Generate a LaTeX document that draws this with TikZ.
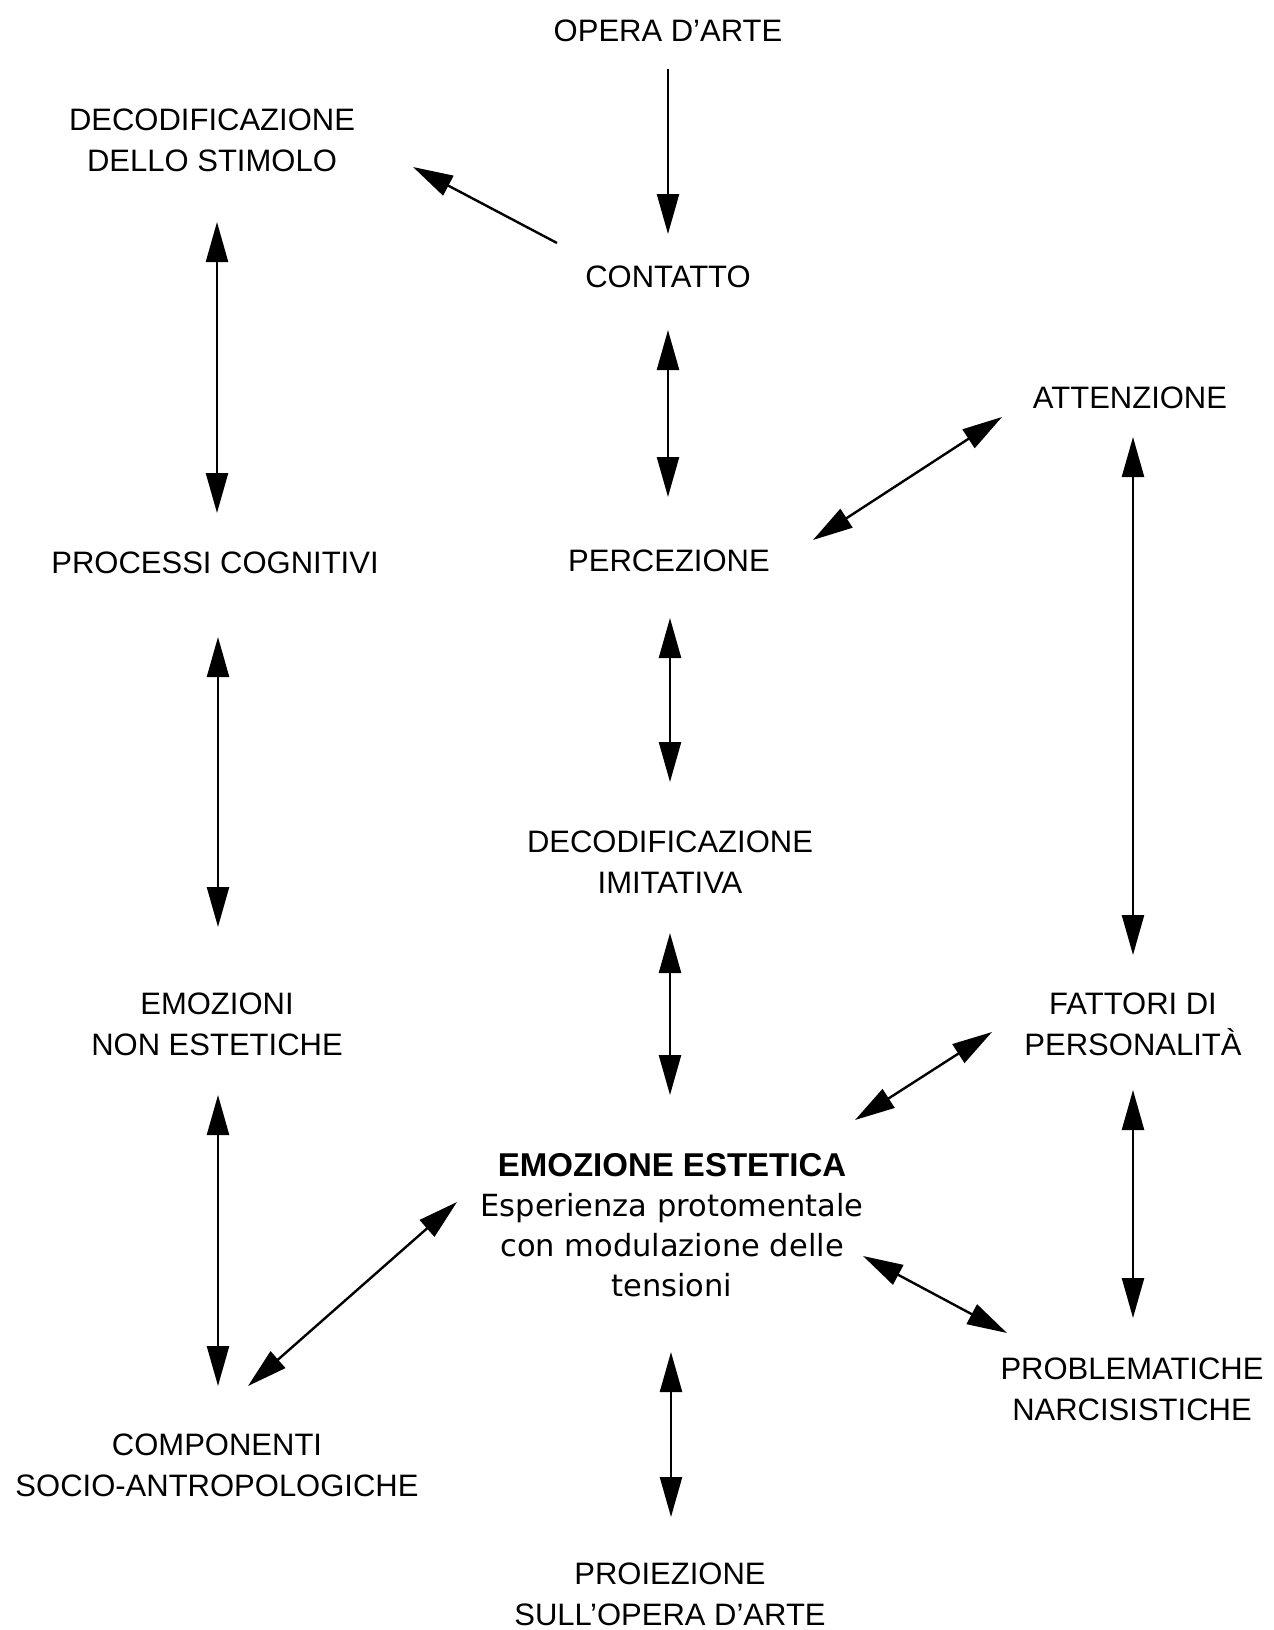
\documentclass[tikz,border=0pt]{standalone}
\usepackage{fontspec}
\setmainfont{Liberation Sans}
\newfontfamily\lowfont{DejaVu Sans}
\usetikzlibrary{arrows.meta}
\begin{document}
\begin{tikzpicture}[x=1pt,y=-1pt,
  lbl/.style={inner sep=0pt, align=center, font=\fontsize{31}{41}\selectfont},
  tipA/.tip={Triangle[length=40pt,width=22pt]},
  arr/.style={line width=2.4pt, -tipA},
  dbl/.style={line width=2.4pt, tipA-tipA}]
\useasboundingbox[fill=white] (0,0) rectangle (1274,1630);

% nodes
\node[lbl] (opera) at (668,31) {OPERA D’ARTE};
\node[lbl] (stimolo) at (212,140) {DECODIFICAZIONE\\DELLO STIMOLO};
\node[lbl] (contatto) at (668,277) {CONTATTO};
\node[lbl] (attenzione) at (1130,398) {ATTENZIONE};
\node[lbl] (processi) at (215,563) {PROCESSI COGNITIVI};
\node[lbl] (percezione) at (669,561) {PERCEZIONE};
\node[lbl] (imitativa) at (670,862) {DECODIFICAZIONE\\IMITATIVA};
\node[lbl] (emnon) at (217,1024) {EMOZIONI\\NON ESTETICHE};
\node[lbl] (fattori) at (1133,1024) {FATTORI DI\\PERSONALITÀ};
\node[lbl, font=\lowfont\fontsize{30.5}{40}\selectfont] (estetica) at (672,1225)
  {{\rmfamily\bfseries\fontsize{33}{40}\selectfont EMOZIONE ESTETICA}\\Esperienza protomentale\\con modulazione delle\\tensioni};
\node[lbl] (problem) at (1132,1389) {PROBLEMATICHE\\NARCISISTICHE};
\node[lbl] (compon) at (217,1465) {COMPONENTI\\SOCIO-ANTROPOLOGICHE};
\node[lbl] (proiezione) at (670,1594) {PROIEZIONE\\SULL’OPERA D’ARTE};

% connectors
\draw[arr] ([shift={(0,38)}]opera.center) -- ([shift={(0,-43)}]contatto.center);
\draw[arr] ([shift={(-111,-34)}]contatto.center) -- ([shift={(201,27)}]stimolo.center);
\draw[dbl] ([shift={(5,82)}]stimolo.center) -- ([shift={(2,-50)}]processi.center);
\draw[dbl] ([shift={(0,53)}]contatto.center) -- ([shift={(-1,-64)}]percezione.center);
\draw[dbl] ([shift={(144,-21)}]percezione.center) -- ([shift={(-128,19)}]attenzione.center);
\draw[dbl] ([shift={(3,39)}]attenzione.center) -- ([shift={(0,-69)}]fattori.center);
\draw[dbl] ([shift={(3,74)}]processi.center) -- ([shift={(1,-97)}]emnon.center);
\draw[dbl] ([shift={(1,57)}]percezione.center) -- ([shift={(0,-80)}]imitativa.center);
\draw[dbl] ([shift={(0,71)}]imitativa.center) -- ([shift={(-2,-130)}]estetica.center);
\draw[dbl] ([shift={(183,-105)}]estetica.center) -- ([shift={(-141,8)}]fattori.center);
\draw[dbl] ([shift={(1,71)}]emnon.center) -- ([shift={(1,-79)}]compon.center);
\draw[dbl] ([shift={(0,66)}]fattori.center) -- ([shift={(1,-71)}]problem.center);
\draw[dbl] ([shift={(-215,-23)}]estetica.center) -- ([shift={(31,-79)}]compon.center);
\draw[dbl] ([shift={(191,31)}]estetica.center) -- ([shift={(-125,-56)}]problem.center);
\draw[dbl] ([shift={(-1,127)}]estetica.center) -- ([shift={(1,-77)}]proiezione.center);
\end{tikzpicture}
\end{document}
